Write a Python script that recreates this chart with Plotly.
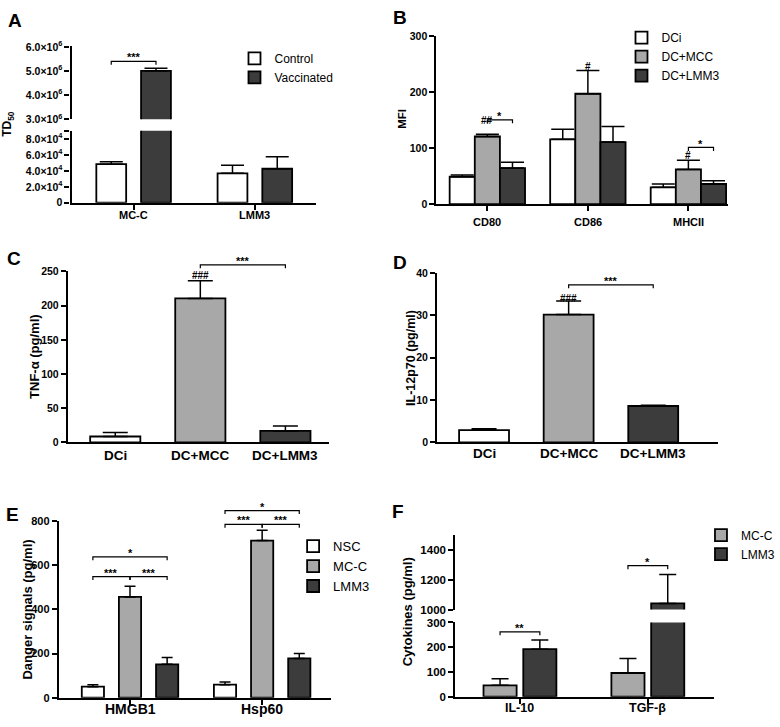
import plotly.graph_objects as go

W, H = 780, 727
FONT = "Liberation Sans, Arial, Helvetica, sans-serif"
BLACK = "#000000"
C_WHITE = "#ffffff"
C_GREY = "#a8a8a8"
C_DARK = "#3c3c3c"

# ======================= DATA =======================
# Panel A
a_categories = ["MC-C", "LMM3"]
a_series = ["Control", "Vaccinated"]
a_control = [4.85e4, 3.7e4]
a_control_sem = [0.3e4, 1.0e4]
a_vaccinated = [5.01e6, 4.27e4]
a_vaccinated_sem = [0.11e6, 1.5e4]
a_lower_tickvals = [0, 2e4, 4e4, 6e4, 8e4, 9.04e4]
a_lower_ticktext = ["0", "2.0×10<sup>4</sup>", "4.0×10<sup>4</sup>", "6.0×10<sup>4</sup>", "8.0×10<sup>4</sup>", ""]
a_upper_tickvals = [3e6, 4e6, 5e6, 6e6]
a_upper_ticktext = ["3.0×10<sup>6</sup>", "4.0×10<sup>6</sup>", "5.0×10<sup>6</sup>", "6.0×10<sup>6</sup>"]
a_sig = [(("MC-C", "Control"), ("MC-C", "Vaccinated"), "***")]

# Panel B
b_categories = ["CD80", "CD86", "MHCII"]
b_series = ["DCi", "DC+MCC", "DC+LMM3"]
b_dci = [49, 116, 30]
b_dci_sem = [3, 18, 6]
b_mcc = [121, 197.5, 62]
b_mcc_sem = [4, 41.5, 16.5]
b_lmm3 = [64.5, 111, 36]
b_lmm3_sem = [10.5, 28, 6]
b_tickvals = [0, 100, 200, 300]
b_sig = [(("CD80", "DC+MCC"), ("CD80", "DC+LMM3"), "*"),
         (("MHCII", "DC+MCC"), ("MHCII", "DC+LMM3"), "*")]
b_hash = [(("CD80", "DC+MCC"), "##"), (("CD86", "DC+MCC"), "#"), (("MHCII", "DC+MCC"), "#")]

# Panel C
c_categories = ["DCi", "DC+MCC", "DC+LMM3"]
c_values = [8.6, 210.6, 16.7]
c_sem = [5.8, 26, 7.2]
c_tickvals = [0, 50, 100, 150, 200, 250]
c_sig = [(("DC+MCC", ""), ("DC+LMM3", ""), "***")]
c_hash = [(("DC+MCC", ""), "###")]

# Panel D
d_categories = ["DCi", "DC+MCC", "DC+LMM3"]
d_values = [2.9, 30.2, 8.6]
d_sem = [0.3, 3.2, 0.2]
d_tickvals = [0, 10, 20, 30, 40]
d_sig = [(("DC+MCC", ""), ("DC+LMM3", ""), "***")]
d_hash = [(("DC+MCC", ""), "###")]

# Panel E
e_categories = ["HMGB1", "Hsp60"]
e_series = ["NSC", "MC-C", "LMM3"]
e_nsc = [50, 59]
e_nsc_sem = [9, 12]
e_mcc = [456, 711]
e_mcc_sem = [48, 47]
e_lmm3 = [151, 178]
e_lmm3_sem = [31, 22]
e_tickvals = [0, 200, 400, 600, 800]
e_sig = [(("HMGB1", "NSC"), ("HMGB1", "MC-C"), "***"),
         (("HMGB1", "MC-C"), ("HMGB1", "LMM3"), "***"),
         (("HMGB1", "NSC"), ("HMGB1", "LMM3"), "*"),
         (("Hsp60", "NSC"), ("Hsp60", "MC-C"), "***"),
         (("Hsp60", "MC-C"), ("Hsp60", "LMM3"), "***"),
         (("Hsp60", "NSC"), ("Hsp60", "LMM3"), "*")]

# Panel F
f_categories = ["IL-10", "TGF-β"]
f_series = ["MC-C", "LMM3"]
f_mcc = [46, 96]
f_mcc_sem = [27, 58]
f_lmm3 = [192, 1041]
f_lmm3_sem = [37, 195]
f_lower_tickvals = [0, 100, 200, 300]
f_upper_tickvals = [1000, 1200, 1400]
f_sig_lower = [(("IL-10", "MC-C"), ("IL-10", "LMM3"), "**")]
f_sig_upper = [(("TGF-β", "MC-C"), ("TGF-β", "LMM3"), "*")]

# ======================= HELPERS =======================
fig = go.Figure()
annotations = []
layout_axes = {}


def ydom(top, bottom):
    return [1 - bottom / H, 1 - top / H]


def xdom(left, right):
    return [left / W, right / W]


def dpp(seg):
    return (seg["r"][1] - seg["r"][0]) / (seg["px"][1] - seg["px"][0])


def overlay(seg, extra):
    top, bottom = seg["px"]
    r0, r1 = seg["r"]
    ntop = top - extra
    return dict(px=[ntop, bottom], r=[r0, r0 + (r1 - r0) * (bottom - ntop) / (bottom - top)])


def yaxis_cfg(seg, anchor, tickvals=None, ticktext=None, fs=10.5, visible=True):
    d = dict(domain=ydom(*seg["px"]), range=seg["r"], anchor=anchor, visible=visible,
             showline=True, linecolor=BLACK, linewidth=2.2, ticks="outside", ticklen=5,
             tickwidth=2, tickcolor=BLACK, showgrid=False, zeroline=False, fixedrange=True,
             tickfont=dict(family=FONT, size=fs, color=BLACK, weight="bold"))
    if tickvals is not None:
        d.update(tickmode="array", tickvals=tickvals,
                 ticktext=ticktext if ticktext is not None else [f"{v:g}" for v in tickvals])
    return d


def xaxis_cfg(px, rng, anchor, cats, ticks):
    return dict(domain=xdom(*px), range=rng, anchor=anchor, showline=True, linecolor=BLACK,
                linewidth=2.2, ticks="outside" if ticks else "", ticklen=5, tickwidth=2,
                tickcolor=BLACK, tickmode="array", tickvals=list(range(len(cats))),
                ticktext=cats, showticklabels=False, showgrid=False, zeroline=False,
                fixedrange=True)


def xlabels(xref, cats, y_px, fs):
    # category labels placed under the axis at each category position
    for i, c in enumerate(cats):
        annotations.append(dict(x=i, y=1 - y_px / H, xref=xref, yref="paper", text=c,
                                showarrow=False, xanchor="center", yanchor="middle",
                                font=dict(family=FONT, size=fs, color=BLACK, weight="bold")))


def add_group_bars(xref, yref, cats, series_names, vals, sems, colors, w, gap, cap,
                   legend=None, showlegend=False):
    """Grouped bars; returns dict of (cat, series)->x position and ->error-top value."""
    n = len(vals)
    pos, top = {}, {}
    for j in range(n):
        shift = (j - (n - 1) / 2) * (w + gap)
        fig.add_trace(go.Bar(
            x=list(range(len(cats))), y=vals[j], width=w, offset=shift - w / 2,
            name=series_names[j], xaxis=xref, yaxis=yref,
            marker=dict(color=colors[j], line=dict(color=BLACK, width=1.8)),
            error_y=dict(type="data", array=sems[j], arrayminus=[0] * len(cats), symmetric=False,
                         color=BLACK, thickness=1.5, width=cap),
            showlegend=showlegend, legend=legend, hoverinfo="skip"))
        for i, c in enumerate(cats):
            pos[(c, series_names[j])] = i + shift
            top[(c, series_names[j])] = vals[j][i] + sems[j][i]
    return pos, top


def add_single_bars(xref, yref, cats, vals, sems, colors, w, cap):
    fig.add_trace(go.Bar(
        x=list(range(len(cats))), y=vals, width=w, offset=-w / 2, xaxis=xref, yaxis=yref,
        marker=dict(color=colors, line=dict(color=BLACK, width=1.8)),
        error_y=dict(type="data", array=sems, arrayminus=[0] * len(cats), symmetric=False,
                     color=BLACK, thickness=1.5, width=cap),
        showlegend=False, hoverinfo="skip"))
    pos = {(c, ""): i for i, c in enumerate(cats)}
    top = {(c, ""): vals[i] + sems[i] for i, c in enumerate(cats)}
    return pos, top


STAR_FONT = dict(family=FONT, size=11, color=BLACK, weight="bold")
HASH_FONT = dict(family=FONT, size=10, color=BLACK, weight="bold")


def add_sig(xref, yref, seg, brackets, levels_px, pos, top, star_px=6):
    xs, ys = [], []
    k = dpp(seg)
    for (ka, kb, label), lvl in zip(brackets, levels_px):
        xa, xb = pos[ka], pos[kb]
        lo, hi = min(xa, xb), max(xa, xb)
        spanned = [top[q] for q in pos if lo - 1e-9 <= pos[q] <= hi + 1e-9]
        y = max(spanned) + lvl * k
        t = 3.5 * k
        xs += [xa, xa, xb, xb, None]
        ys += [y - t, y, y, y - t, None]
        annotations.append(dict(x=(xa + xb) / 2, y=y + star_px * k, xref=xref, yref=yref,
                                text=label, showarrow=False, yanchor="middle", yshift=-2,
                                font=STAR_FONT))
    fig.add_trace(go.Scatter(x=xs, y=ys, mode="lines", xaxis=xref, yaxis=yref,
                             line=dict(color=BLACK, width=1.2), showlegend=False,
                             hoverinfo="skip"))


def add_hash(xref, yref, seg, hashes, offs_px, pos, top):
    k = dpp(seg)
    for (key, label), off in zip(hashes, offs_px):
        annotations.append(dict(x=pos[key], y=top[key] + off * k, xref=xref, yref=yref,
                                text=label, showarrow=False, yanchor="middle", yshift=-1,
                                font=HASH_FONT))


def title(text, x, y, size):
    annotations.append(dict(x=x / W, y=1 - y / H, xref="paper", yref="paper", text=text,
                            showarrow=False, textangle=-90, xanchor="center", yanchor="middle",
                            font=dict(family=FONT, size=size, color=BLACK, weight="bold")))


def letter(text, x, y):
    annotations.append(dict(x=x / W, y=1 - y / H, xref="paper", yref="paper", text=text,
                            showarrow=False, xanchor="center", yanchor="middle",
                            font=dict(family=FONT, size=19, color=BLACK, weight="bold")))


def legend_cfg(x, y, size):
    return dict(x=x / W, y=1 - y / H, xanchor="left", yanchor="top", bgcolor="rgba(0,0,0,0)",
                borderwidth=0, font=dict(family=FONT, size=size, color=BLACK),
                tracegroupgap=0, itemclick=False, itemdoubleclick=False)


# ======================= PANEL A =======================
A_low = dict(px=[126, 199.3], r=[0, 9.05e4])
A_up = dict(px=[40, 114.3], r=[3e6, 6.03e6])
a_vals = [a_control, a_vaccinated]
a_sems = [a_control_sem, a_vaccinated_sem]
a_cols = [C_WHITE, C_DARK]
pos, top = add_group_bars("x", "y", a_categories, a_series, a_vals, a_sems, a_cols,
                          0.246, 0.123, 11.5, legend="legend", showlegend=True)
add_group_bars("x", "y2", a_categories, a_series, a_vals, a_sems, a_cols, 0.246, 0.123, 11.5)
add_sig("x", "y2", A_up, a_sig, [7], pos, top)
layout_axes["xaxis"] = xaxis_cfg([72, 318], [-0.512, 1.504], "y", a_categories, True)
layout_axes["yaxis"] = yaxis_cfg(A_low, "x", a_lower_tickvals, a_lower_ticktext, 10.5)
layout_axes["yaxis2"] = yaxis_cfg(A_up, "x", a_upper_tickvals, a_upper_ticktext, 10.5)
xlabels("x", a_categories, 211.5, 11)
title("TD<sub>50</sub>", 8, 119, 12)
letter("A", 15, 13.5)

# ======================= PANEL B =======================
B = dict(px=[30, 200.7], r=[0, 300])
pos, top = add_group_bars("x2", "y3", b_categories, b_series, [b_dci, b_mcc, b_lmm3],
                          [b_dci_sem, b_mcc_sem, b_lmm3_sem], [C_WHITE, C_GREY, C_DARK],
                          0.25, 0.0, 11.5, legend="legend2", showlegend=True)
add_sig("x2", "y3", B, b_sig, [14.6, 13], pos, top)
add_hash("x2", "y3", B, b_hash, [14.6, 4.7, 6], pos, top)
layout_axes["xaxis2"] = xaxis_cfg([439.3, 733], [-0.506, 2.397], "y3", b_categories, True)
layout_axes["yaxis3"] = yaxis_cfg(B, "x2", b_tickvals, None, 10.5)
xlabels("x2", b_categories, 219, 11)
title("MFI", 405, 113.5, 11.5)
letter("B", 402.5, 11)

# ======================= PANEL C =======================
C = dict(px=[269.3, 443.3], r=[0, 250])
C_ov = overlay(C, 40)
pos, top = add_single_bars("x3", "y4", c_categories, c_values, c_sem,
                           [C_WHITE, C_GREY, C_DARK], 0.59, 12.5)
add_sig("x3", "y5", C_ov, c_sig, [16], pos, top)
add_hash("x3", "y5", C_ov, c_hash, [6], pos, top)
layout_axes["xaxis3"] = xaxis_cfg([68.3, 331.5], [-0.557, 2.517], "y4", c_categories, False)
layout_axes["yaxis4"] = yaxis_cfg(C, "x3", c_tickvals, None, 10.5)
layout_axes["yaxis5"] = yaxis_cfg(C_ov, "x3", visible=False)
xlabels("x3", c_categories, 457, 13.5)
title("TNF-α (pg/ml)", 34, 355.5, 13)
letter("C", 14, 256.5)

# ======================= PANEL D =======================
D = dict(px=[271, 443.3], r=[0, 40])
pos, top = add_single_bars("x4", "y6", d_categories, d_values, d_sem,
                           [C_WHITE, C_GREY, C_DARK], 0.59, 12.5)
add_sig("x4", "y6", D, d_sig, [16.5], pos, top)
add_hash("x4", "y6", D, d_hash, [3.3], pos, top)
layout_axes["xaxis4"] = xaxis_cfg([440, 723], [-0.554, 2.77], "y6", d_categories, False)
layout_axes["yaxis6"] = yaxis_cfg(D, "x4", d_tickvals, None, 10.5)
xlabels("x4", d_categories, 454.5, 13.5)
title("IL-12p70 (pg/ml)", 413.5, 357.5, 12.5)
letter("D", 402.5, 260.5)

# ======================= PANEL E =======================
E = dict(px=[523.3, 703.3], r=[0, 800])
E_ov = overlay(E, 30)
pos, top = add_group_bars("x5", "y7", e_categories, e_series, [e_nsc, e_mcc, e_lmm3],
                          [e_nsc_sem, e_mcc_sem, e_lmm3_sem], [C_WHITE, C_GREY, C_DARK],
                          0.168, 0.113, 5.5, legend="legend3", showlegend=True)
add_sig("x5", "y8", E_ov, e_sig, [10, 10, 30, 6, 6, 20], pos, top)
layout_axes["xaxis5"] = xaxis_cfg([59.3, 333], [-0.538, 1.52], "y7", e_categories, True)
layout_axes["yaxis7"] = yaxis_cfg(E, "x5", e_tickvals, None, 11)
layout_axes["yaxis8"] = yaxis_cfg(E_ov, "x5", visible=False)
xlabels("x5", e_categories, 715, 14)
title("Danger signals (pg/ml)", 26.7, 614, 13)
letter("E", 12.5, 516.5)

# ======================= PANEL F =======================
F_low = dict(px=[626.7, 702.3], r=[0, 300])
F_up = dict(px=[538, 613.5], r=[1000, 1500])
f_vals = [f_mcc, f_lmm3]
f_sems = [f_mcc_sem, f_lmm3_sem]
f_cols = [C_GREY, C_DARK]
pos, top = add_group_bars("x6", "y9", f_categories, f_series, f_vals, f_sems, f_cols,
                          0.259, 0.052, 8.5, legend="legend4", showlegend=True)
add_group_bars("x6", "y10", f_categories, f_series, f_vals, f_sems, f_cols, 0.259, 0.052, 8.5)
add_sig("x6", "y9", F_low, f_sig_lower, [8.3], pos, top)
add_sig("x6", "y10", F_up, f_sig_upper, [9], pos, top)
layout_axes["xaxis6"] = xaxis_cfg([458.3, 718.3], [-0.505, 1.515], "y9", f_categories, True)
layout_axes["yaxis9"] = yaxis_cfg(F_low, "x6", f_lower_tickvals, None, 11.5)
layout_axes["yaxis10"] = yaxis_cfg(F_up, "x6", f_upper_tickvals, None, 11.5)
xlabels("x6", f_categories, 714, 12.5)
title("Cytokines (pg/ml)", 411, 616, 13)
letter("F", 401, 513.5)

# ======================= LAYOUT =======================
fig.update_layout(
    width=W, height=H, autosize=False,
    margin=dict(l=0, r=0, t=0, b=0, pad=0),
    paper_bgcolor="white", plot_bgcolor="rgba(0,0,0,0)",
    barmode="overlay", showlegend=True,
    annotations=annotations,
    legend=legend_cfg(236, 37.5, 12),
    legend2=legend_cfg(625.5, 16.5, 12),
    legend3=legend_cfg(295, 533.8, 13),
    legend4=legend_cfg(705.5, 522.9, 12),
    **layout_axes,
)

fig.write_html(
    "out.html",
    config={"displayModeBar": False},
    post_script="document.body.style.margin='0';document.body.style.padding='0';"
                "document.documentElement.style.overflow='hidden';",
)
